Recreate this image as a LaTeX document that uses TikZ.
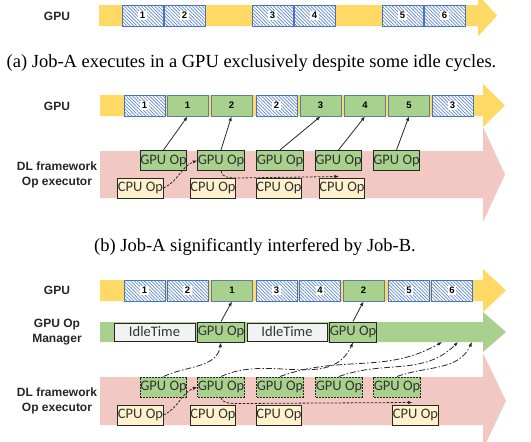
\documentclass[tikz,border=0pt]{standalone}
\usepackage{fontspec}
\setmainfont{Liberation Serif}
\setsansfont{Liberation Sans}
\newfontfamily\boxfont{Carlito}
\usetikzlibrary{patterns.meta,arrows.meta,calc}
\definecolor{yel}{HTML}{FFD966}
\definecolor{grn}{HTML}{A9D18E}
\definecolor{pnk}{HTML}{F2C9C2}
\definecolor{cpuc}{HTML}{FFF2CC}
\definecolor{hblue}{HTML}{4472C4}
\definecolor{gblue}{HTML}{5A7FA8}
\definecolor{idle}{HTML}{F2F2F2}
\definecolor{edge}{HTML}{262626}
\definecolor{txt}{HTML}{333333}
\newcommand\nlab[1]{{\setlength{\fboxsep}{1.5pt}\colorbox{white}{#1}}}
\tikzset{
  slotbase/.style={minimum width=41pt, minimum height=21pt, inner sep=0pt, line width=0.8pt,
    font=\sffamily\bfseries\fontsize{9.5}{10}\selectfont},
  hb/.style={slotbase, draw=hblue, preaction={fill=white}, pattern={Lines[angle=-45,distance=2.4pt,line width=0.7pt]}, pattern color=hblue!85},
  gb/.style={slotbase, draw=gblue, fill=grn},
  lab/.style={font=\sffamily\bfseries\fontsize{12}{15}\selectfont, align=center, text=black!85},
  capt/.style={font=\fontsize{18.5}{22}\selectfont, inner sep=0pt},
  op/.style={draw=edge, line width=1pt, font=\boxfont\fontsize{14.5}{15}\selectfont, text=txt,
    minimum height=20pt, minimum width=44pt, inner sep=0pt},
  gop/.style={op, fill=grn},
  egop/.style={gop, dash pattern=on 2pt off 1pt},
  cpu/.style={op, fill=cpuc},
  idlebox/.style={op, fill=idle, minimum width=81pt, minimum height=18pt},
  arr/.style={-{Latex[length=4.5pt,width=3.5pt]}, line width=0.8pt, draw=edge},
  dsh/.style={arr, dash pattern=on 2.5pt off 1.5pt},
  ddot/.style={arr, dash pattern=on 6pt off 2pt on 1.5pt off 2pt},
}
\begin{document}
\begin{tikzpicture}[x=1pt,y=1pt]
\useasboundingbox (0,0) rectangle (531,-442);
% ---------------- (a)
\fill[yel] (99,-5) -- (478,-5) -- (478,5.5) -- (497,-15.5) -- (478,-36.5) -- (478,-26) -- (99,-26) -- cycle;
\node[lab] (ga) at (57,-16) {GPU};
\node[hb] (a1) at (142.5,-15.5) {\nlab{1}};
\node[hb] (a2) at (184.5,-15.5) {\nlab{2}};
\node[hb] (a3) at (272.5,-15.5) {\nlab{3}};
\node[hb] (a4) at (314.5,-15.5) {\nlab{4}};
\node[hb] (a5) at (402.5,-15.5) {\nlab{5}};
\node[hb] (a6) at (444.5,-15.5) {\nlab{6}};
\node[capt] (capa) at (251.5,-63) {(a) Job-A executes in a GPU exclusively despite some idle cycles.};
% ---------------- (b)
\fill[yel] (100,-95) -- (483,-95) -- (483,-84) -- (505,-105.5) -- (483,-127) -- (483,-116) -- (100,-116) -- cycle;
\fill[pnk] (100,-151) -- (483,-151) -- (483,-127) -- (505,-174.5) -- (483,-222) -- (483,-198) -- (100,-198) -- cycle;
\node[lab] (gb) at (57,-106) {GPU};
\node[lab] (dlb) at (57,-174.5) {DL framework\\Op executor};
\node[hb] (b1) at (144.5,-105.5) {\nlab{1}};
\node[gb] (bg1) at (187.5,-105.5) {1};
\node[gb] (bg2) at (231.5,-105.5) {2};
\node[hb] (b2) at (276.5,-105.5) {\nlab{2}};
\node[gb] (bg3) at (320.5,-105.5) {3};
\node[gb] (bg4) at (365,-105.5) {4};
\node[gb] (bg5) at (409,-105.5) {5};
\node[hb] (b3) at (452.5,-105.5) {\nlab{3}};
\node[gop] (bop1) at (163.5,-160.5) {GPU Op};
\node[gop] (bop2) at (221,-160.5) {GPU Op};
\node[gop] (bop3) at (280,-160.5) {GPU Op};
\node[gop] (bop4) at (338.5,-160.5) {GPU Op};
\node[gop] (bop5) at (396.5,-160.5) {GPU Op};
\node[cpu] (bc1) at (140.5,-188) {CPU Op};
\node[cpu] (bc2) at (213,-188) {CPU Op};
\node[cpu] (bc3) at (279,-188) {CPU Op};
\node[cpu] (bc4) at (342,-188) {CPU Op};
\draw[arr] (bop1.north) -- (bg1.south);
\draw[arr] (bop2.north) -- (bg2.south);
\draw[arr] (bop3.north) -- (bg3.south);
\draw[arr] (bop4.north) -- (bg4.south);
\draw[arr] (bop5.north) -- (bg5.south);
\draw[dsh] (bc1.east) to[out=25,in=200] (bop2.west);
\draw[dsh] (bop2.south) .. controls +(0,-6) and +(-8,0) .. +(16,-7) -- ([xshift=-3pt,yshift=1pt]bc4.north);
\node[capt] (capb) at (255,-247) {(b) Job-A significantly interfered by Job-B.};
% ---------------- (c)
\fill[yel] (100,-280) -- (483,-280) -- (483,-269) -- (506,-290.5) -- (483,-312) -- (483,-301) -- (100,-301) -- cycle;
\fill[grn] (100,-322) -- (483,-322) -- (483,-312) -- (506,-332) -- (483,-352) -- (483,-342) -- (100,-342) -- cycle;
\fill[pnk] (100,-377) -- (483,-377) -- (483,-353) -- (506,-401) -- (483,-449) -- (483,-425) -- (100,-425) -- cycle;
\node[lab] (gc) at (57,-290) {GPU};
\node[lab] (mgr) at (57,-332) {GPU Op\\Manager};
\node[lab] (dlc) at (57,-401) {DL framework\\Op executor};
\node[hb] (c1) at (144.5,-290.5) {\nlab{1}};
\node[hb] (c2) at (187.5,-290.5) {\nlab{2}};
\node[gb] (cg1) at (232,-290.5) {1};
\node[hb] (c3) at (276.5,-290.5) {\nlab{3}};
\node[hb] (c4) at (320,-290.5) {\nlab{4}};
\node[gb] (cg2) at (363.5,-290.5) {2};
\node[hb] (c5) at (409,-290.5) {\nlab{5}};
\node[hb] (c6) at (452,-290.5) {\nlab{6}};
\node[idlebox] (id1) at (154.5,-332) {IdleTime};
\node[gop] (mop1) at (221,-332) {GPU Op};
\node[idlebox, minimum width=80pt] (id2) at (287,-332) {IdleTime};
\node[gop] (mop2) at (353,-332) {GPU Op};
\node[egop] (cop1) at (163.5,-387) {GPU Op};
\node[egop] (cop2) at (221,-387) {GPU Op};
\node[egop] (cop3) at (280,-387) {GPU Op};
\node[egop] (cop4) at (339,-387) {GPU Op};
\node[egop] (cop5) at (397,-387) {GPU Op};
\node[cpu] (cc1) at (140.5,-415) {CPU Op};
\node[cpu] (cc2) at (213,-415) {CPU Op};
\node[cpu] (cc3) at (279,-415) {CPU Op};
\node[cpu] (cc4) at (415.5,-415) {CPU Op};
\coordinate (t3) at (442,-342);
\coordinate (t4) at (458,-342);
\coordinate (t5) at (472,-342);
\draw[arr] (mop1.north) -- (cg1.south);
\draw[arr] (mop2.north) -- (cg2.south);
\draw[ddot] (cop1.north) to[out=25,in=-100] (mop1.south);
\draw[ddot] (cop2.north) to[out=25,in=-115] (mop2.south);
\draw[ddot] (cop3.north) to[out=20,in=-150] (t3);
\draw[ddot] (cop4.north) to[out=20,in=-135] (t4);
\draw[ddot] (cop5.north) to[out=20,in=-115] (t5);
\draw[dsh] (cc1.east) to[out=25,in=200] (cop2.west);
\draw[dsh] (cop2.south) .. controls +(0,-5) and +(-8,0) .. +(16,-6) -- ([xshift=-3pt,yshift=2pt]cc4.north);
\end{tikzpicture}
\end{document}
